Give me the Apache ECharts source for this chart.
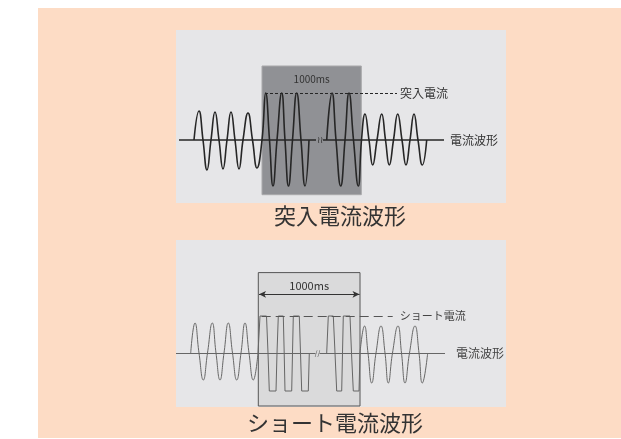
<!DOCTYPE html>
<html>
<head>
<meta charset="utf-8">
<script src="https://cdn.jsdelivr.net/npm/echarts@6/dist/echarts.min.js"></script>
<style>
html, body { margin: 0; background: #fff; }
#main { position: absolute; left: 38px; top: 8px; width: 583px; height: 430px; background: #fddcc5; }
</style>
</head>
<body>
<div id="main"></div>
<script>
// 上段: 突入電流波形  (x = 横位置, y = 電流, 基線 = 0)
var inrushBefore = [[18,0],[23,29],[27,0],[31,-30],[35,0],[39,28],[43,0],[47,-29],[51,0],[55,28],[59,0],[63,-29],[67,0],[72,27],[76.5,0],[81,-28],[86,0]]
var inrushPeaksA = [[86,0],[89.7,47],[93.5,0],[97,-46],[101,0],[105.7,47],[109,0],[112.5,-46],[116.5,0],[120.7,47],[125,0],[129,-46],[133,0]]
var inrushPeaksB = [[150.7,0],[156,47],[160,0],[164.7,-46],[169,0],[173,47],[177.5,0],[182.3,-46],[185.5,0]]
var inrushAfter = [[185.5,0],[189,26],[193,0],[196.7,-25],[201,0],[205.7,26],[209.5,0],[213.3,-25],[217.5,0],[221.7,26],[226,0],[230,-25],[234,0],[238,26],[242,0],[246.3,-25],[250.7,0]]
var inrushLevel = 47

// 下段: ショート電流波形
var shortBefore = [[14.7,0],[19,30],[23,0],[27.3,-27],[31.5,0],[36.3,30],[40,0],[44,-27],[48,0],[52.3,30],[56.5,0],[60.7,-27],[65,0],[69,30],[73,0],[77.3,-27],[82,0]]
var shortClipA = [[82,0],[84,37],[90.5,37],[92,0],[93.3,-38],[100,-38],[101,0],[102.3,37],[107.3,37],[108.2,0],[109,-38],[115.7,-38],[116.5,0],[117.3,37],[123.3,37],[124.5,0],[125.7,-38],[132.3,-38],[133.3,0]]
var shortClipB = [[150.7,0],[152.3,37],[157.3,37],[159,0],[160.7,-38],[165.7,-38],[166.5,0],[167.3,37],[174,37],[175.5,0],[177.3,-38],[183,-38],[184,0]]
var shortAfter = [[184,0],[188.5,27],[192,0],[195.7,-30],[200,0],[205,27],[209,0],[212.3,-30],[216.5,0],[222,27],[225.5,0],[229,-30],[233.5,0],[239,27],[243,0],[246.3,-30],[251.7,0]]
var shortLevel = 37

var FONT = '"Noto Sans CJK JP", sans-serif'
var dark = '#262626'
var gray = '#666'

var chart = echarts.init(document.getElementById('main'))

function hidden(i, min, max) {
    return { type: 'value', gridIndex: i, min: min, max: max, show: false }
}

chart.setOption({
    animation: false,
    textStyle: { fontFamily: FONT },
    grid: [
        { left: 138, top: 22, width: 330, height: 173, show: true, backgroundColor: '#e6e6e8', borderWidth: 0 },
        { left: 138, top: 232, width: 330, height: 167, show: true, backgroundColor: '#e6e6e8', borderWidth: 0 }
    ],
    xAxis: [hidden(0, 0, 330), hidden(1, 0, 330)],
    yAxis: [hidden(0, -63, 110), hidden(1, -54, 113)],
    graphic: [
        { type: 'text', x: 302, y: 208, style: { text: '突入電流波形', font: '22px ' + FONT, fill: '#333', textAlign: 'center', textVerticalAlign: 'middle' } },
        { type: 'text', x: 297, y: 415, style: { text: 'ショート電流波形', font: '22px ' + FONT, fill: '#333', textAlign: 'center', textVerticalAlign: 'middle' } }
    ],
    series: [
        // 上段 1000ms の箱
        {
            type: 'line', xAxisIndex: 0, yAxisIndex: 0, z: 1,
            data: [[0, 0]], showSymbol: false, lineStyle: { opacity: 0 },
            markArea: {
                silent: true,
                data: [[
                    { coord: [86, 74], itemStyle: { color: '#909195', borderColor: '#a9a9ab', borderWidth: 1 },
                      label: { show: true, position: 'insideTop', distance: 9, formatter: '1000ms', fontSize: 10, color: '#333' } },
                    { coord: [185.3, -54.7] }
                ]]
            }
        },
        {
            type: 'line', xAxisIndex: 0, yAxisIndex: 0, z: 3,
            data: inrushBefore.concat(inrushPeaksA.slice(1)),
            smooth: true, showSymbol: false,
            lineStyle: { color: dark, width: 1.6 },
            markLine: {
                silent: true, symbol: 'none',
                label: { show: false },
                data: [
                    [{ coord: [3, 0], lineStyle: { color: dark, width: 1.5, type: 'solid' } }, { coord: [140, 0] }],
                    [{ coord: [147, 0], lineStyle: { color: dark, width: 1.5, type: 'solid' },
                       label: { show: true, position: 'end', distance: 6, formatter: '電流波形', fontSize: 12, color: '#333' } }, { coord: [268, 0] }],
                    [{ coord: [89, inrushLevel], lineStyle: { color: dark, width: 1, type: [3, 2] },
                       label: { show: true, position: 'end', distance: 3, formatter: '突入電流', fontSize: 12, color: '#333' } }, { coord: [221, inrushLevel] }]
                ]
            },
            markPoint: {
                silent: true, symbol: 'circle', symbolSize: 0,
                data: [{ coord: [143.5, 0], label: { show: true, position: 'inside', formatter: '≀≀', fontSize: 9, color: '#333' } }]
            }
        },
        {
            type: 'line', xAxisIndex: 0, yAxisIndex: 0, z: 3,
            data: inrushPeaksB.concat(inrushAfter.slice(1)),
            smooth: true, showSymbol: false,
            lineStyle: { color: dark, width: 1.6 }
        },
        // 下段 1000ms の箱
        {
            type: 'line', xAxisIndex: 1, yAxisIndex: 1, z: 1,
            data: [[0, 0]], showSymbol: false, lineStyle: { opacity: 0 },
            markArea: {
                silent: true,
                data: [[
                    { coord: [82.3, 80.4], itemStyle: { color: '#dadadb', borderColor: '#555', borderWidth: 1 },
                      label: { show: true, position: 'insideTop', distance: 8, formatter: '1000ms', fontSize: 11, color: '#333' } },
                    { coord: [184, -53] }
                ]]
            }
        },
        {
            type: 'line', xAxisIndex: 1, yAxisIndex: 1, z: 3,
            data: shortBefore,
            smooth: true, showSymbol: false,
            lineStyle: { color: gray, width: 1 },
            markLine: {
                silent: true, symbol: 'none',
                label: { show: false },
                data: [
                    [{ coord: [0, 0], lineStyle: { color: gray, width: 1, type: 'solid' } }, { coord: [139.5, 0] }],
                    [{ coord: [143.5, 0], lineStyle: { color: gray, width: 1, type: 'solid' },
                       label: { show: true, position: 'end', distance: 11, formatter: '電流波形', fontSize: 12, color: '#444' } }, { coord: [269, 0] }],
                    [{ coord: [85.7, shortLevel], lineStyle: { color: '#555', width: 1, type: [9, 5] },
                       label: { show: true, position: 'end', distance: 7, formatter: 'ショート電流', fontSize: 11, color: '#444' } }, { coord: [216.7, shortLevel] }],
                    [{ coord: [83, 58.7], symbol: 'arrow', symbolSize: [5, 7], lineStyle: { color: '#333', width: 1, type: 'solid' } },
                     { coord: [183.5, 58.7], symbol: 'arrow', symbolSize: [5, 7] }]
                ]
            },
            markPoint: {
                silent: true, symbol: 'circle', symbolSize: 0,
                data: [{ coord: [141.5, 0], label: { show: true, position: 'inside', formatter: '//', fontSize: 7, color: '#444' } }]
            }
        },
        {
            type: 'line', xAxisIndex: 1, yAxisIndex: 1, z: 3,
            data: shortClipA, smooth: false, showSymbol: false,
            lineStyle: { color: gray, width: 1 }
        },
        {
            type: 'line', xAxisIndex: 1, yAxisIndex: 1, z: 3,
            data: shortClipB, smooth: false, showSymbol: false,
            lineStyle: { color: gray, width: 1 }
        },
        {
            type: 'line', xAxisIndex: 1, yAxisIndex: 1, z: 3,
            data: shortAfter, smooth: true, showSymbol: false,
            lineStyle: { color: gray, width: 1 }
        }
    ]
})
</script>
</body>
</html>
